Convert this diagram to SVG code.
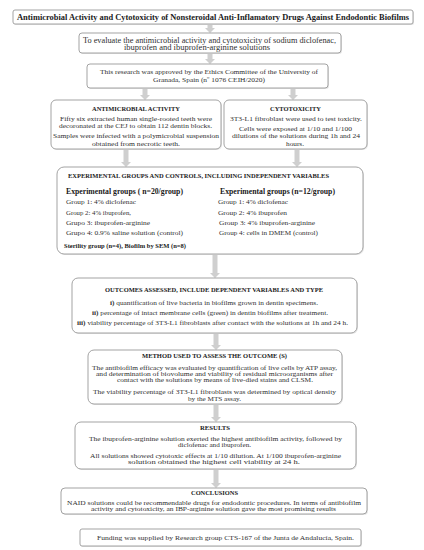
<svg xmlns="http://www.w3.org/2000/svg" width="424" height="550" viewBox="0 0 424 550">
<style>
.box{fill:#fff;stroke:#999;stroke-width:0.9}
.sh{fill:#e6e6e6}
.arr{fill:#cfcfcf}
text{font-family:"Liberation Serif","DejaVu Serif",serif;fill:#2f2f2f;font-size:6.9px}
.h{font-weight:bold;fill:#1a1a1a}
.b{font-weight:bold}
.t{font-size:7.6px}
</style>
<rect width="424" height="550" fill="#fff"/>
<g id="connectors">
<path class="arr" d="M207.5,24 h5 v4 h2.5 l-5,5 l-5,-5 h2.5 z"/>
<path class="arr" d="M207.5,53 h5 v6 h2.5 l-5,5 l-5,-5 h2.5 z"/>
<path class="arr" d="M142.5,88 h5 v7 h2.5 l-5,5 l-5,-5 h2.5 z"/>
<path class="arr" d="M290.5,88 h5 v7 h2.5 l-5,5 l-5,-5 h2.5 z"/>
<path class="arr" d="M123.5,149 h5 v13 h2.5 l-5,5 l-5,-5 h2.5 z"/>
<path class="arr" d="M294.5,149 h5 v13 h2.5 l-5,5 l-5,-5 h2.5 z"/>
<path class="arr" d="M212.5,254 h5 v19 h2.5 l-5,5 l-5,-5 h2.5 z"/>
<path class="arr" d="M213.5,333 h5 v12 h2.5 l-5,5 l-5,-5 h2.5 z"/>
<path class="arr" d="M213.5,404 h5 v13 h2.5 l-5,5 l-5,-5 h2.5 z"/>
<path class="arr" d="M213.5,469 h5 v14 h2.5 l-5,5 l-5,-5 h2.5 z"/>
</g>
<g id="title">
<rect class="sh" x="14" y="11" width="400" height="14" rx="2"/>
<rect class="box" x="13" y="10" width="400" height="14" rx="2"/>
<text class="h t" x="17" y="19.8" textLength="392" lengthAdjust="spacingAndGlyphs">Antimicrobial Activity and Cytotoxicity of Nonsteroidal Anti-Inflamatory Drugs Against Endodontic Biofilms</text>
</g>
<g id="objective">
<rect class="sh" x="80" y="34" width="262" height="20" rx="3"/>
<rect class="box" x="79" y="33" width="262" height="20" rx="3"/>
<text class="t" style="font-size:7.4px" x="83" y="42.5" textLength="253" lengthAdjust="spacingAndGlyphs">To evaluate the antimicrobial activity and cytotoxicity of sodium diclofenac,</text>
<text class="t" style="font-size:7.4px" x="124" y="50.3" textLength="146" lengthAdjust="spacingAndGlyphs">ibuprofen and ibuprofen-arginine solutions</text>
</g>
<g id="ethics">
<rect class="sh" x="88" y="65" width="241" height="24" rx="3"/>
<rect class="box" x="87" y="64" width="241" height="24" rx="3"/>
<text x="100" y="74" textLength="218" lengthAdjust="spacingAndGlyphs">This research was approved by the Ethics Committee of the University of</text>
<text x="153" y="82.2" textLength="112" lengthAdjust="spacingAndGlyphs">Granada, Spain (nº 1076 CEIH/2020)</text>
</g>
<g id="antimicrobial">
<rect class="sh" x="52" y="101" width="170" height="49" rx="5"/>
<rect class="box" x="51" y="100" width="170" height="49" rx="5"/>
<text class="h" x="92" y="110.6" textLength="88" lengthAdjust="spacingAndGlyphs">ANTIMICROBIAL ACTIVITY</text>
<text x="60" y="120.6" textLength="152" lengthAdjust="spacingAndGlyphs">Fifty six extracted human single-rooted teeth were</text>
<text x="59" y="127.6" textLength="153" lengthAdjust="spacingAndGlyphs">decoronated at the CEJ to obtain 112 dentin blocks.</text>
<text x="53" y="138" textLength="166" lengthAdjust="spacingAndGlyphs">Samples were infected with a polymicrobial suspension</text>
<text x="92" y="145.6" textLength="88" lengthAdjust="spacingAndGlyphs">obtained from necrotic teeth.</text>
</g>
<g id="cytotoxicity">
<rect class="sh" x="225" y="101" width="143" height="49" rx="5"/>
<rect class="box" x="224" y="100" width="143" height="49" rx="5"/>
<text class="h" x="270" y="110.6" textLength="51" lengthAdjust="spacingAndGlyphs">CYTOTOXICITY</text>
<text x="230" y="120.6" textLength="132" lengthAdjust="spacingAndGlyphs">3T3-L1 fibroblast were used to test toxicity.</text>
<text x="239" y="130.6" textLength="113" lengthAdjust="spacingAndGlyphs">Cells were exposed at 1/10 and 1/100</text>
<text x="232" y="138" textLength="128" lengthAdjust="spacingAndGlyphs">dilutions of the solutions during 1h and 24</text>
<text x="286" y="145.6" textLength="18" lengthAdjust="spacingAndGlyphs">hours.</text>
</g>
<g id="experimental">
<rect class="sh" x="58" y="168" width="306" height="87" rx="7"/>
<rect class="box" x="57" y="167" width="306" height="87" rx="7"/>
<text class="h" x="68" y="177.5" textLength="261" lengthAdjust="spacingAndGlyphs">EXPERIMENTAL GROUPS AND CONTROLS, INCLUDING INDEPENDENT VARIABLES</text>
<text class="h" style="font-size:7.2px" x="66" y="193.6" textLength="117" lengthAdjust="spacingAndGlyphs">Experimental groups ( n=20/group)</text>
<text x="66" y="204.3" textLength="70" lengthAdjust="spacingAndGlyphs">Group 1: 4% diclofenac</text>
<text x="66" y="214.6" textLength="65" lengthAdjust="spacingAndGlyphs">Group 2: 4% ibuprofen,</text>
<text x="66" y="225" textLength="84" lengthAdjust="spacingAndGlyphs">Grupo 3: ibuprofen-arginine</text>
<text x="66" y="235.3" textLength="117" lengthAdjust="spacingAndGlyphs">Grupo 4: 0.9%  saline solution (control)</text>
<text class="h" style="font-size:5.6px" x="64" y="248" textLength="122" lengthAdjust="spacingAndGlyphs">Sterility group (n=4), Biofilm by SEM (n=8)</text>
<text class="h" style="font-size:7.2px" x="220" y="193.6" textLength="115" lengthAdjust="spacingAndGlyphs">Experimental groups (n=12/group)</text>
<text x="218" y="204.3" textLength="70" lengthAdjust="spacingAndGlyphs">Group 1: 4% diclofenac</text>
<text x="218" y="214.6" textLength="69" lengthAdjust="spacingAndGlyphs">Group 2: 4% ibuprofen</text>
<text x="219" y="225" textLength="96" lengthAdjust="spacingAndGlyphs">Group 3: 4% ibuprofen-arginine</text>
<text x="219" y="235.3" textLength="99" lengthAdjust="spacingAndGlyphs">Group 4: cells in DMEM (control)</text>
</g>
<g id="outcomes">
<rect class="sh" x="73" y="279" width="285" height="55" rx="6"/>
<rect class="box" x="72" y="278" width="285" height="55" rx="6"/>
<text class="h" x="105" y="291.5" textLength="218" lengthAdjust="spacingAndGlyphs">OUTCOMES ASSESSED, INCLUDE DEPENDENT VARIABLES AND TYPE</text>
<text x="110" y="304.5" textLength="208" lengthAdjust="spacingAndGlyphs"><tspan class="b">i)</tspan> quantification of live bacteria in  biofilms grown in dentin specimens.</text>
<text x="92" y="314.8" textLength="236" lengthAdjust="spacingAndGlyphs"><tspan class="b">ii)</tspan> percentage of intact membrane cells (green) in dentin biofilms after treatment.</text>
<text x="77" y="324.5" textLength="271" lengthAdjust="spacingAndGlyphs"><tspan class="b">iii)</tspan> viability percentage of 3T3-L1 fibroblasts after contact with the solutions at 1h and 24 h.</text>
</g>
<g id="method">
<rect class="sh" x="89" y="351" width="254" height="54" rx="6"/>
<rect class="box" x="88" y="350" width="254" height="54" rx="6"/>
<text class="h" x="142" y="358" textLength="145" lengthAdjust="spacingAndGlyphs">METHOD USED TO ASSESS THE OUTCOME (S)</text>
<text x="92" y="369.8" textLength="245" lengthAdjust="spacingAndGlyphs">The antibiofilm efficacy was evaluated by quantification of live cells by ATP assay,</text>
<text x="96" y="375.8" textLength="237" lengthAdjust="spacingAndGlyphs">and determination of biovolume and viability of residual microorganisms after</text>
<text x="117" y="381.8" textLength="196" lengthAdjust="spacingAndGlyphs">contact with the solutions by means of live-died stains and CLSM.</text>
<text x="93" y="394.4" textLength="243" lengthAdjust="spacingAndGlyphs">The viability  percentage of 3T3-L1 fibroblasts was determined by optical density</text>
<text x="188" y="401" textLength="53" lengthAdjust="spacingAndGlyphs">by the MTS assay.</text>
</g>
<g id="results">
<rect class="sh" x="76" y="423" width="281" height="47" rx="6"/>
<rect class="box" x="75" y="422" width="281" height="47" rx="6"/>
<text class="h" x="200" y="429.5" textLength="30" lengthAdjust="spacingAndGlyphs">RESULTS</text>
<text x="89" y="440.5" textLength="253" lengthAdjust="spacingAndGlyphs">The ibuprofen-arginine solution exerted the highest  antibiofilm activity, followed by</text>
<text x="178" y="446.5" textLength="73" lengthAdjust="spacingAndGlyphs">diclofenac and ibuprofen.</text>
<text x="90" y="458" textLength="251" lengthAdjust="spacingAndGlyphs">All solutions showed cytotoxic effects at 1/10 dilution. At 1/100 ibuprofen-arginine</text>
<text x="128" y="464" textLength="172" lengthAdjust="spacingAndGlyphs">solution  obtained the highest cell viability at 24 h.</text>
</g>
<g id="conclusions">
<rect class="sh" x="62" y="489" width="306" height="26" rx="4"/>
<rect class="box" x="61" y="488" width="306" height="26" rx="4"/>
<text class="h" x="191" y="494.6" textLength="47" lengthAdjust="spacingAndGlyphs">CONCLUSIONS</text>
<text x="67" y="504.6" textLength="294" lengthAdjust="spacingAndGlyphs">NAID solutions could be recommendable drugs for endodontic procedures. In terms of antibiofilm</text>
<text x="91" y="511.2" textLength="245" lengthAdjust="spacingAndGlyphs">activity and cytotoxicity, an IBP-arginine solution gave the most promising results</text>
</g>
<g id="funding">
<rect class="sh" x="81" y="530" width="281" height="17" rx="2"/>
<rect class="box" x="80" y="529" width="281" height="17" rx="2"/>
<text x="97" y="540" textLength="257" lengthAdjust="spacingAndGlyphs">Funding was supplied by Research group CTS-167 of the Junta de Andalucía, Spain.</text>
</g>
</svg>
